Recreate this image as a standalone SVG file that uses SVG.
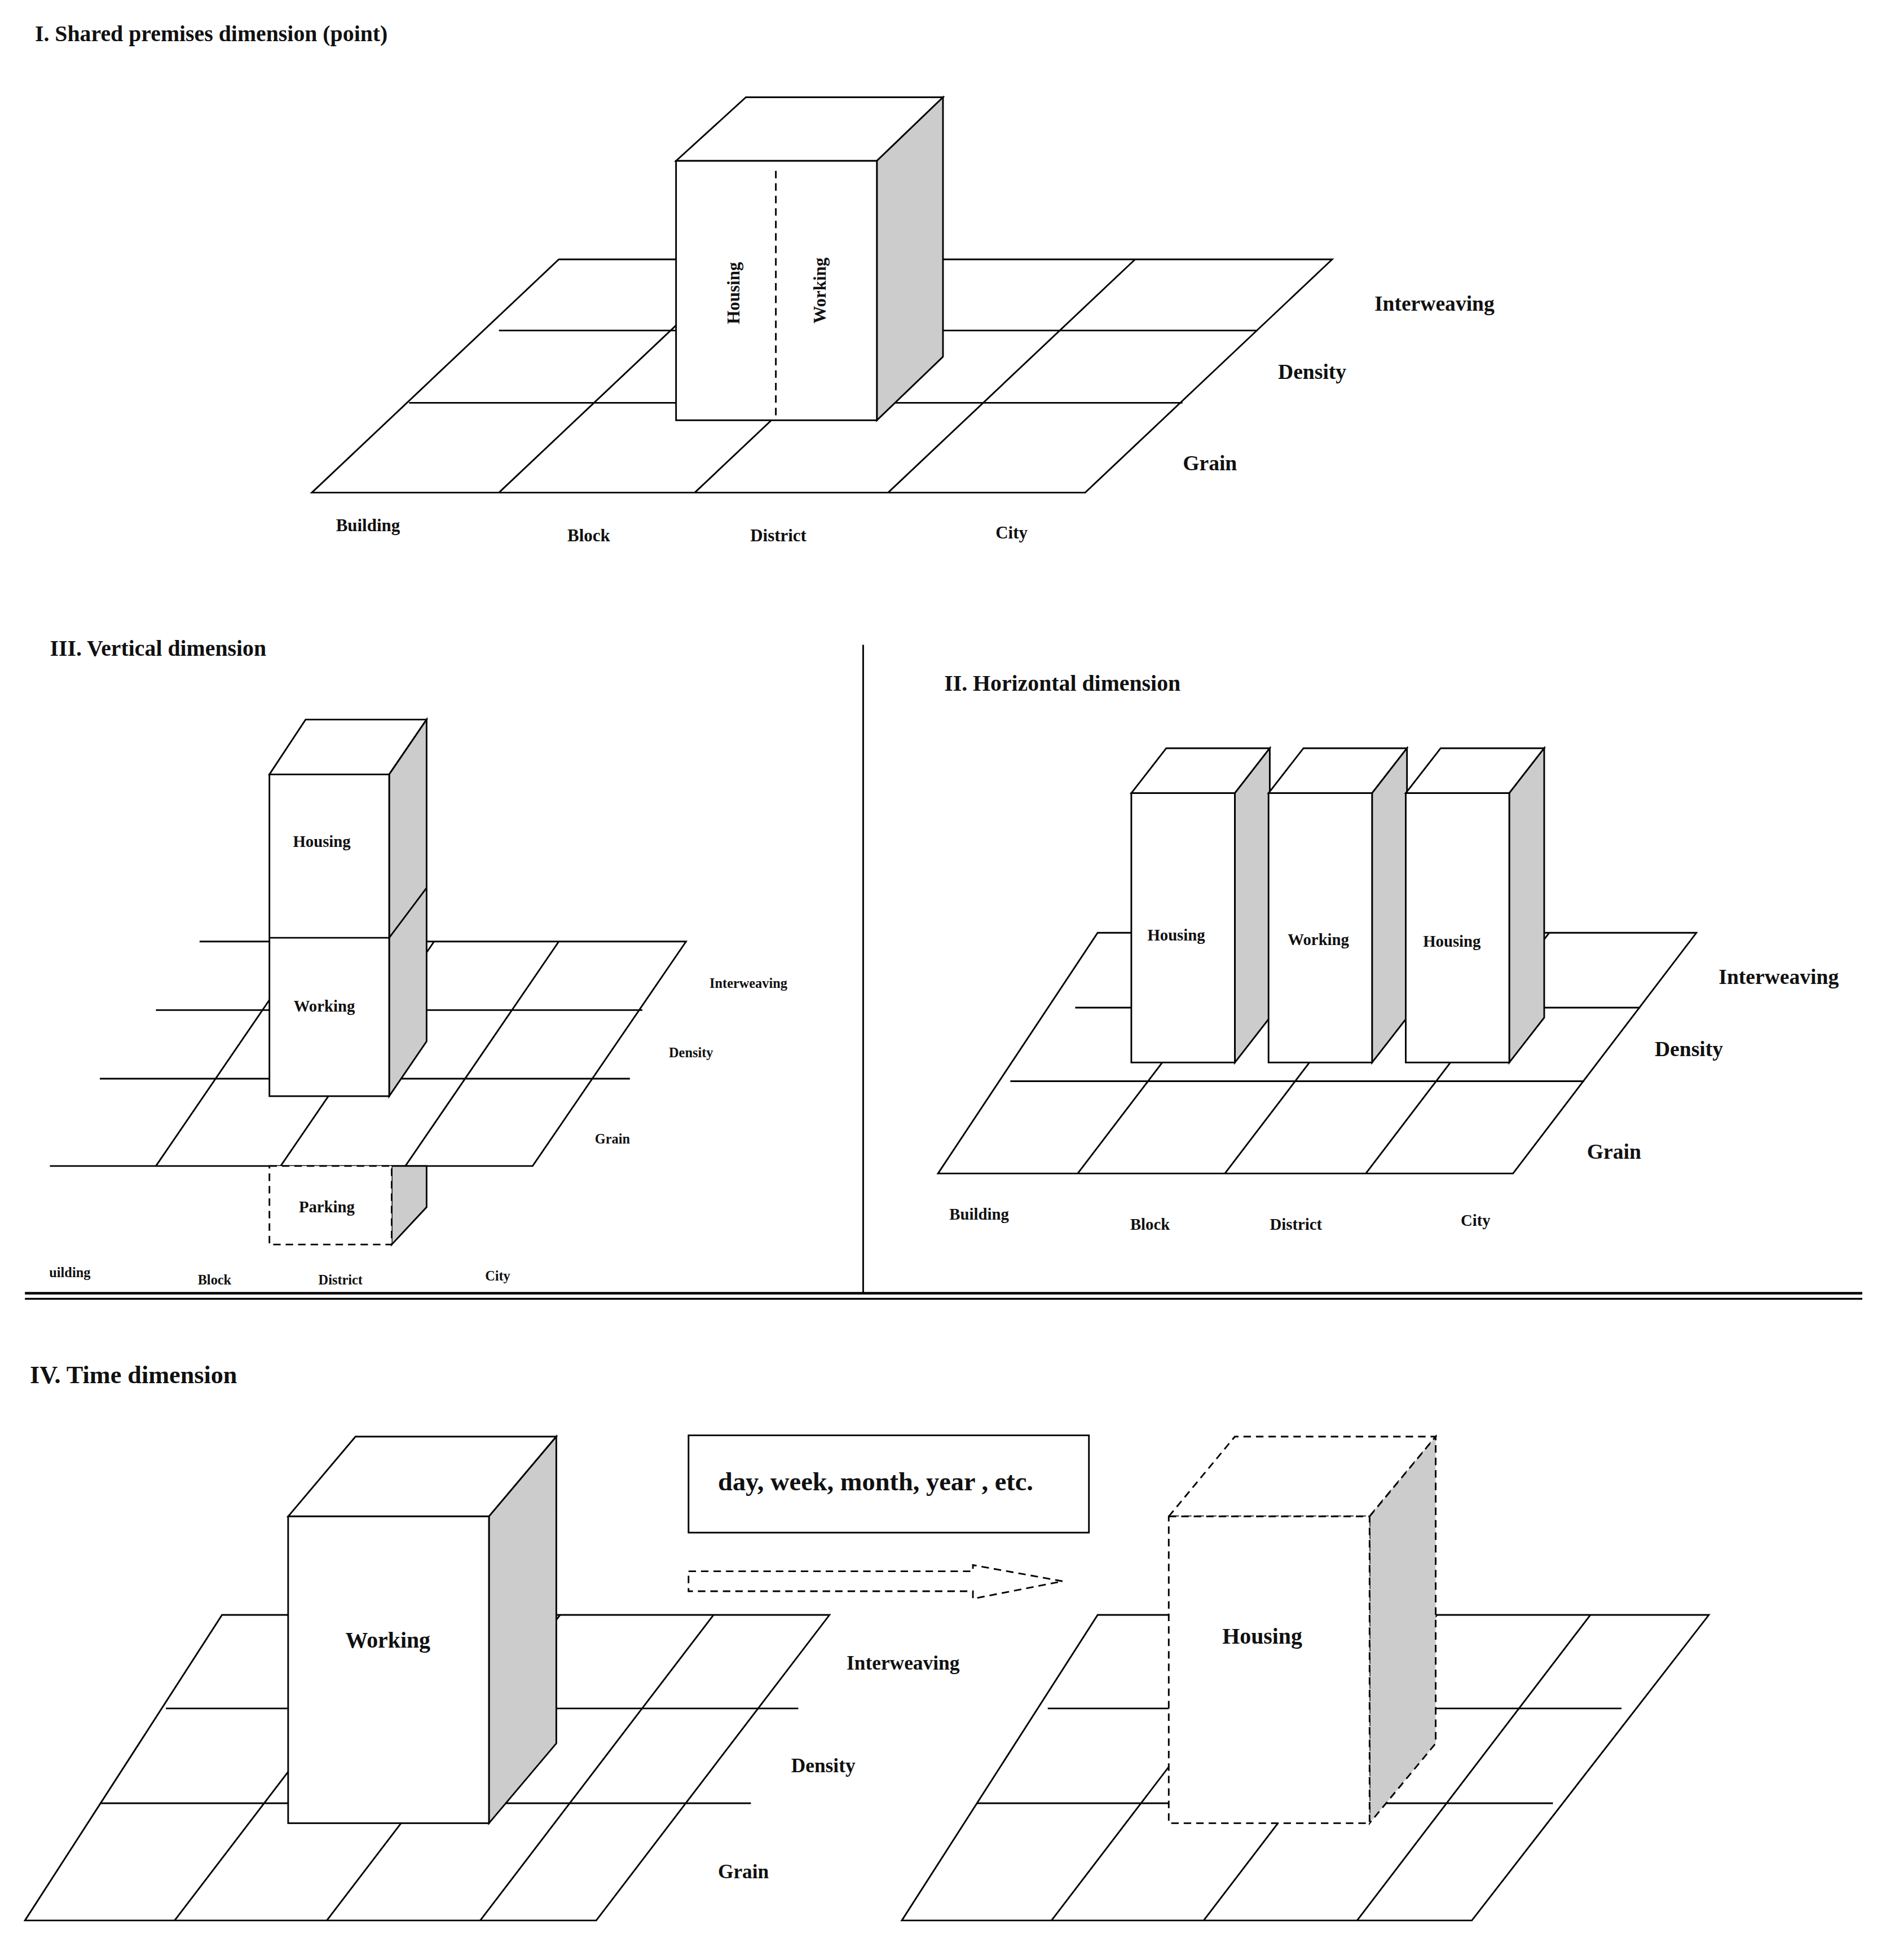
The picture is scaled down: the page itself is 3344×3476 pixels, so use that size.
<svg xmlns="http://www.w3.org/2000/svg" width="3344" height="3476" viewBox="0 0 3344 3476">
<style>
.g{fill:none;stroke:#000;stroke-width:1.3}
.f{fill:#fff;stroke:#000;stroke-width:1.3}
.s{fill:#ccc;stroke:#000;stroke-width:1.3}
.d{stroke-dasharray:6,4}
.t{font-family:"Liberation Serif",serif;font-weight:bold;text-anchor:middle;fill:#111}
.h{font-family:"Liberation Serif",serif;font-weight:bold;fill:#111}
</style>
<rect width="3344" height="3476" fill="#fff"/>
<g transform="scale(2.2116)">
<text class="h" x="28" y="33" font-size="18">I. Shared premises dimension (point)</text>
<g id="grid1" class="g">
<polygon points="250,395 870,395 1068,208 448,208"/>
<line x1="328" y1="323" x2="948" y2="323"/><line x1="400" y1="265" x2="1008" y2="265"/>
<line x1="400" y1="395" x2="598" y2="208"/><line x1="557" y1="395" x2="755" y2="208"/><line x1="712" y1="395" x2="910" y2="208"/>
</g>
<g id="box1">
<polygon class="f" points="542,129 598,78 756,78 703,129"/>
<polygon class="s" points="703,129 756,78 756,286 703,337"/>
<rect class="f" x="542" y="129" width="161" height="208"/>
<line class="g d" x1="622" y1="137" x2="622" y2="337"/>
<text class="t" font-size="14" transform="translate(593,235) rotate(-90)">Housing</text>
<text class="t" font-size="14" transform="translate(662,233) rotate(-90)">Working</text>
</g>
<g class="t" font-size="17"><text x="1150" y="249">Interweaving</text><text x="1052" y="304">Density</text><text x="970" y="377">Grain</text></g>
<g class="t" font-size="14"><text x="295" y="426">Building</text><text x="472" y="434">Block</text><text x="624" y="434">District</text><text x="811" y="432">City</text></g>

<text class="h" x="40" y="526" font-size="18">III. Vertical dimension</text>
<g id="grid3" class="g">
<polyline points="40,935 427,935 550,755 160,755"/>
<line x1="80" y1="865" x2="505" y2="865"/><line x1="125" y1="810" x2="515" y2="810"/>
<line x1="125" y1="935" x2="248" y2="755"/><line x1="225" y1="935" x2="348" y2="755"/><line x1="325" y1="935" x2="448" y2="755"/>
</g>
<g id="box3">
<polygon class="f" points="216,621 245,577 342,577 312,621"/>
<polygon class="s" points="312,621 342,577 342,835 312,879"/>
<line class="g" x1="312" y1="752" x2="342" y2="712"/>
<rect class="f" x="216" y="621" width="96" height="258"/>
<line class="g" x1="216" y1="752" x2="312" y2="752"/>
<text class="t" x="258" y="679" font-size="13">Housing</text>
<text class="t" x="260" y="811" font-size="13">Working</text>
</g>
<g id="parking">
<polygon class="s" points="314,935 342,935 342,968 314,998"/>
<rect class="f d" x="216" y="935" width="98" height="63"/>
<text class="t" x="262" y="972" font-size="13">Parking</text>
</g>
<g class="t" font-size="11"><text x="600" y="792">Interweaving</text><text x="554" y="848">Density</text><text x="491" y="917">Grain</text><text x="56" y="1024">uilding</text><text x="172" y="1030">Block</text><text x="273" y="1030">District</text><text x="399" y="1027">City</text></g>

<line class="g" x1="692" y1="517" x2="692" y2="1037"/>
<line x1="20" y1="1037" x2="1493" y2="1037" stroke="#000" stroke-width="2"/>
<line x1="20" y1="1041.5" x2="1493" y2="1041.5" stroke="#000" stroke-width="1.5"/>

<text class="h" x="757" y="554" font-size="18">II. Horizontal dimension</text>
<g id="grid2" class="g">
<polygon points="752,941 1213,941 1360,748 880,748"/>
<line x1="810" y1="867" x2="1270" y2="867"/><line x1="862" y1="808" x2="1315" y2="808"/>
<line x1="864" y1="941" x2="1011" y2="748"/><line x1="982" y1="941" x2="1129" y2="748"/><line x1="1095" y1="941" x2="1242" y2="748"/>
</g>
<g id="box2a"><polygon class="f" points="907,636 935,600 1018,600 990,636"/><polygon class="s" points="990,636 1018,600 1018,816 990,852"/><rect class="f" x="907" y="636" width="83" height="216"/><text class="t" x="943" y="754" font-size="13">Housing</text></g>
<g id="box2b"><polygon class="f" points="1017,636 1045,600 1128,600 1100,636"/><polygon class="s" points="1100,636 1128,600 1128,816 1100,852"/><rect class="f" x="1017" y="636" width="83" height="216"/><text class="t" x="1057" y="758" font-size="13">Working</text></g>
<g id="box2c"><polygon class="f" points="1127,636 1155,600 1238,600 1210,636"/><polygon class="s" points="1210,636 1238,600 1238,816 1210,852"/><rect class="f" x="1127" y="636" width="83" height="216"/><text class="t" x="1164" y="759" font-size="13">Housing</text></g>
<g class="t" font-size="17"><text x="1426" y="789">Interweaving</text><text x="1354" y="847">Density</text><text x="1294" y="929">Grain</text></g>
<g class="t" font-size="13"><text x="785" y="978">Building</text><text x="922" y="986">Block</text><text x="1039" y="986">District</text><text x="1183" y="983">City</text></g>

<text class="h" x="24" y="1109" font-size="20">IV. Time dimension</text>
<g id="grid4a" class="g">
<polygon points="20,1540 478,1540 665,1295 178,1295"/>
<line x1="80" y1="1446" x2="602" y2="1446"/><line x1="133" y1="1370" x2="640" y2="1370"/>
<line x1="140" y1="1540" x2="327" y2="1295"/><line x1="262" y1="1540" x2="449" y2="1295"/><line x1="385" y1="1540" x2="572" y2="1295"/>
</g>
<g id="box4a" stroke-width="2.5">
<polygon class="f" stroke-width="2.5" points="231,1216 285,1152 446,1152 392,1216"/>
<polygon class="s" stroke-width="2.5" points="392,1216 446,1152 446,1398 392,1462"/>
<rect class="f" stroke-width="2.5" x="231" y="1216" width="161" height="246"/>
<text class="t" x="311" y="1321" font-size="18">Working</text>
</g>
<g class="t" font-size="16"><text x="724" y="1339">Interweaving</text><text x="660" y="1421">Density</text><text x="596" y="1506">Grain</text></g>
<g id="timebox"><rect class="f" stroke-width="2.5" x="552" y="1151" width="321" height="78"/><text class="t" x="702" y="1195" font-size="21">day, week, month, year , etc.</text></g>
<g id="connectors"><polygon class="g d" stroke-width="2" points="552,1260 780,1260 780,1255 852,1268 780,1282 780,1276 552,1276"/></g>
<g id="grid4b" class="g">
<polygon points="723,1540 1180,1540 1370,1295 880,1295"/>
<line x1="783" y1="1446" x2="1245" y2="1446"/><line x1="840" y1="1370" x2="1300" y2="1370"/>
<line x1="843" y1="1540" x2="1030" y2="1295"/><line x1="965" y1="1540" x2="1152" y2="1295"/><line x1="1088" y1="1540" x2="1275" y2="1295"/>
</g>
<g id="box4b">
<polygon class="f d" stroke-width="2.5" points="937,1216 990,1152 1151,1152 1098,1216"/>
<polygon class="s d" stroke-width="2.5" points="1098,1216 1151,1152 1151,1398 1098,1462"/>
<rect class="f d" stroke-width="2.5" x="937" y="1216" width="161" height="246"/>
<text class="t" x="1012" y="1318" font-size="18">Housing</text>
</g>
</g>
</svg>
